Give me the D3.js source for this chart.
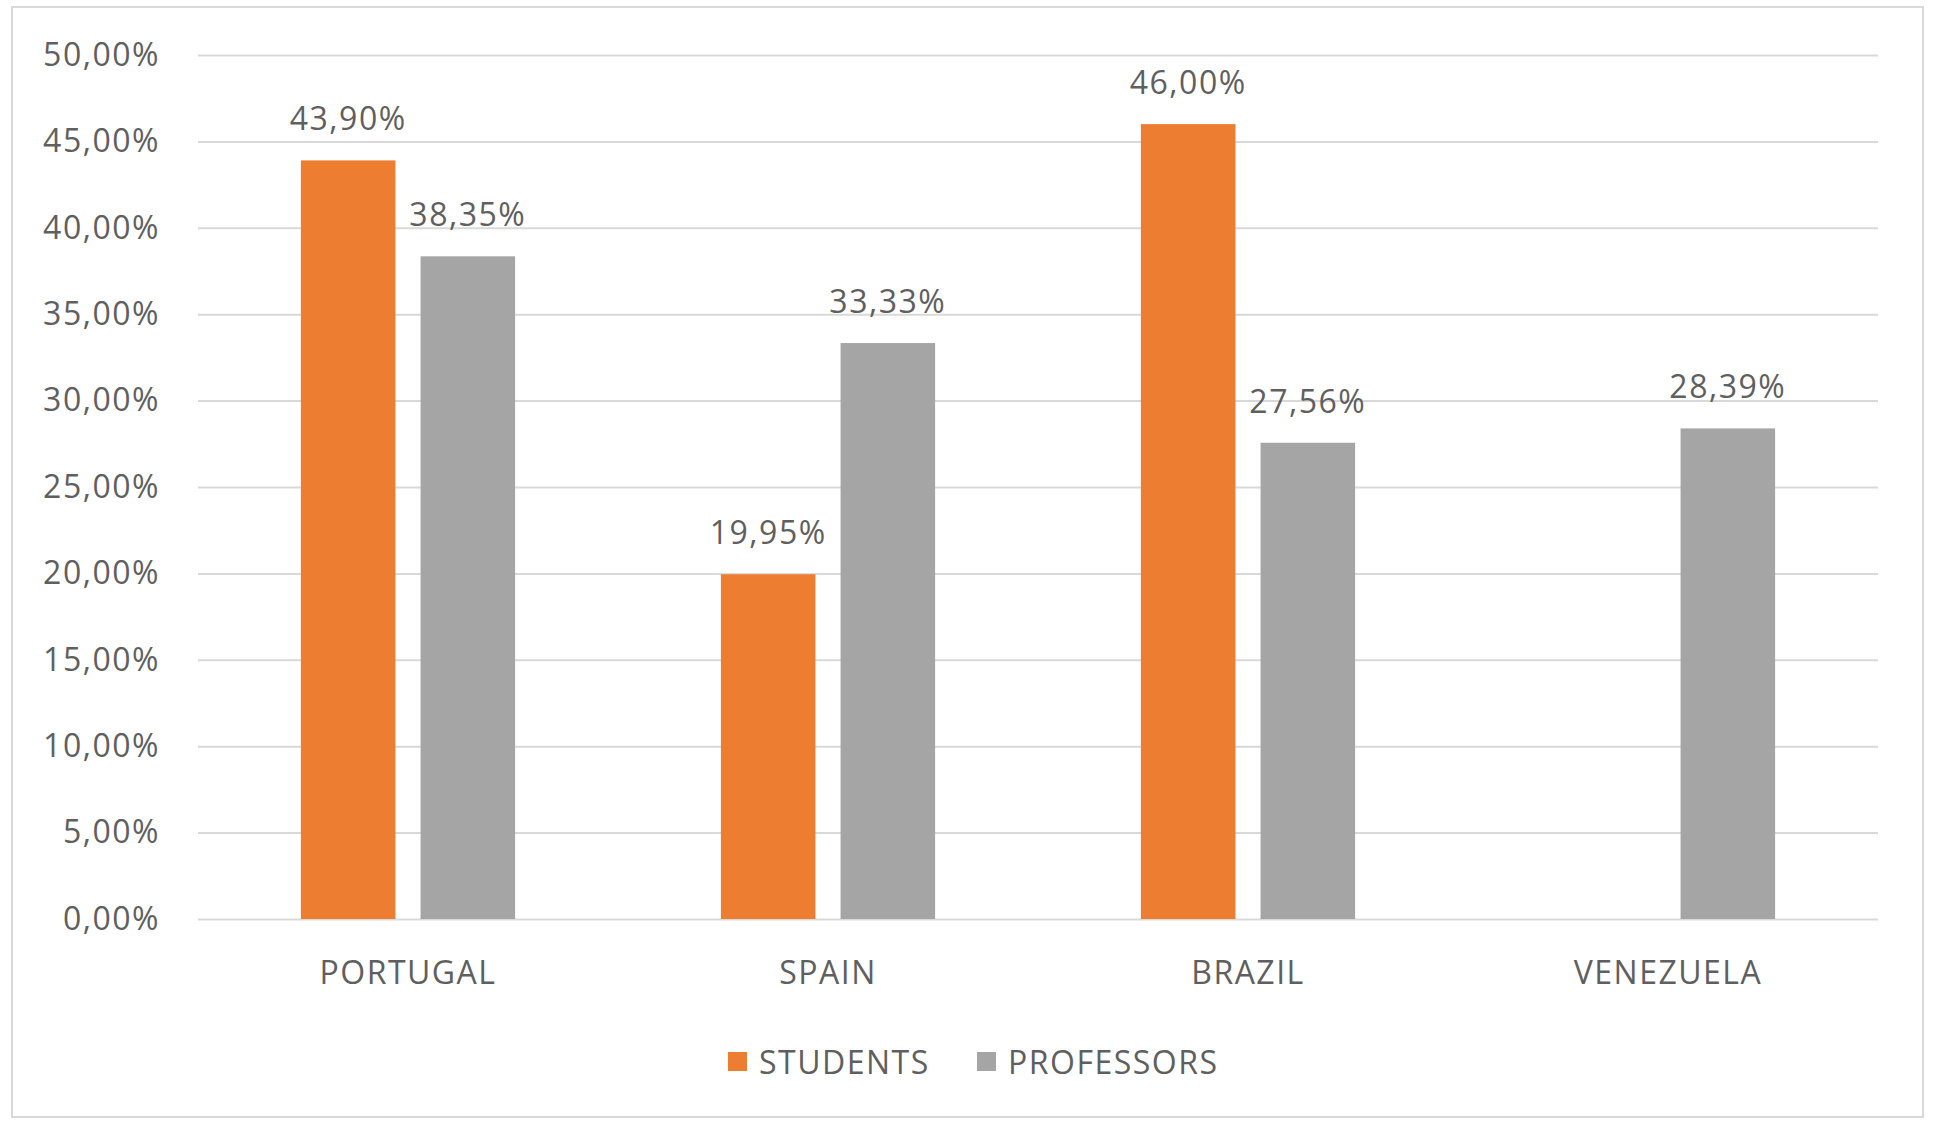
<!DOCTYPE html>
<meta charset="utf-8">
<html>
<head>
<style>
  body { margin: 0; background: #fff; }
  text { font-family: "Open Sans", sans-serif; fill: #5f5f5f; }
</style>
</head>
<body>
<div id="chart"></div>
<script src="https://d3js.org/d3.v7.min.js"></script>
<script>

// data
var countries = ["PORTUGAL", "SPAIN", "BRAZIL", "VENEZUELA"];
var seriesNames = ["STUDENTS", "PROFESSORS"];
var students = [43.90, 19.95, 46.00, null];
var professors = [38.35, 33.33, 27.56, 28.39];
var yTicks = [0, 5, 10, 15, 20, 25, 30, 35, 40, 45, 50];
var colors = ["#ED7D31", "#A5A5A5"];

var W = 1935, H = 1124;
var margin = {top: 55, right: 57, bottom: 205, left: 198},
    width = W - margin.left - margin.right,
    height = H - margin.top - margin.bottom;

var pt = d3.formatLocale({decimal: ",", thousands: ".", grouping: [3], currency: ["", "€"]});
var fmt = function(v) { return pt.format(".2f")(v) + "%"; };

var svg = d3.select("#chart")
  .append("svg")
    .attr("width", W)
    .attr("height", H);

// outer frame
svg.append("rect")
  .attr("x", 12).attr("y", 7)
  .attr("width", 1911).attr("height", 1110)
  .attr("fill", "#fff")
  .attr("stroke", "#d9d9d9")
  .attr("stroke-width", 2);

var g = svg.append("g")
  .attr("transform", "translate(" + margin.left + "," + margin.top + ")");

var y = d3.scaleLinear()
  .domain([0, 50])
  .range([height, 0]);

var x = d3.scaleBand()
  .domain(countries)
  .range([0, width]);

var xSub = d3.scaleBand()
  .domain(seriesNames)
  .range([x.bandwidth() * 0.245, x.bandwidth() * 0.755])
  .paddingInner(0.21);

// gridlines + y labels
var yAxis = g.append("g")
  .call(d3.axisLeft(y).tickValues(yTicks).tickSize(-width).tickPadding(38).tickFormat(fmt));
yAxis.select(".domain").remove();
yAxis.selectAll(".tick line")
  .attr("stroke", "#d9d9d9")
  .attr("stroke-width", 2);
yAxis.selectAll(".tick text")
  .style("font-size", "32px")
  .style("letter-spacing", "1.5px")
  .attr("fill", "#5f5f5f");

// category labels
var xAxis = g.append("g")
  .attr("transform", "translate(0," + height + ")")
  .call(d3.axisBottom(x).tickSize(0).tickPadding(42));
xAxis.select(".domain").remove();
xAxis.selectAll(".tick text")
  .style("font-size", "32px")
  .style("letter-spacing", "1.5px")
  .attr("fill", "#5f5f5f");

var rows = countries.map(function(c, i) {
  return {country: c, values: [
    {key: seriesNames[0], value: students[i], color: colors[0]},
    {key: seriesNames[1], value: professors[i], color: colors[1]}
  ]};
});

var groups = g.selectAll(".grp")
  .data(rows)
  .enter().append("g")
    .attr("class", "grp")
    .attr("transform", function(d) { return "translate(" + x(d.country) + ",0)"; });

var bars = groups.selectAll(".bar")
  .data(function(d) { return d.values.filter(function(v) { return v.value != null; }); })
  .enter();

bars.append("rect")
  .attr("x", function(d) { return xSub(d.key); })
  .attr("y", function(d) { return y(d.value); })
  .attr("width", xSub.bandwidth())
  .attr("height", function(d) { return height - y(d.value); })
  .attr("fill", function(d) { return d.color; });

bars.append("text")
  .attr("x", function(d) { return xSub(d.key) + xSub.bandwidth() / 2; })
  .attr("y", function(d) { return y(d.value) - 30; })
  .attr("text-anchor", "middle")
  .style("font-size", "32px")
  .style("letter-spacing", "1.5px")
  .text(function(d) { return fmt(d.value); });

// legend
var legend = svg.append("g").attr("transform", "translate(0,1062)");
var legendX = [728, 977];
seriesNames.forEach(function(s, i) {
  legend.append("rect")
    .attr("x", legendX[i]).attr("y", -10)
    .attr("width", 19).attr("height", 19)
    .attr("fill", colors[i]);
  legend.append("text")
    .attr("x", legendX[i] + 31)
    .attr("y", 0)
    .attr("dy", "0.36em")
    .style("font-size", "32px")
    .style("letter-spacing", "1.5px")
    .text(s);
});

</script>
</body>
</html>
